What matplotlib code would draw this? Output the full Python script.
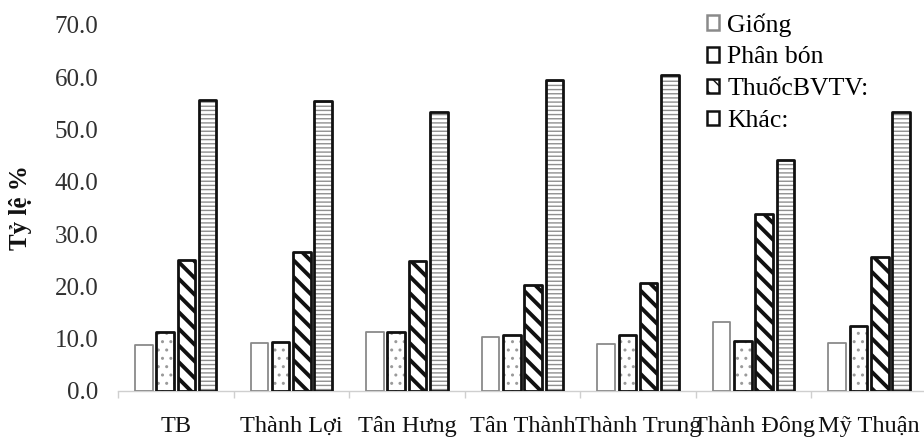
import matplotlib
matplotlib.use("Agg")
import matplotlib.pyplot as plt
from matplotlib.patches import Patch
import numpy as np

plt.rcParams['font.family'] = ['Liberation Serif', 'DejaVu Serif']

categories = ["TB", "Thành Lợi", "Tân Hưng", "Tân Thành", "Thành Trung", "Thành Đông", "Mỹ Thuận"]
giong = [8.8, 9.1, 11.3, 10.4, 9.0, 13.1, 9.1]
phan_bon = [11.2, 9.4, 11.2, 10.7, 10.7, 9.6, 12.5]
thuoc_bvtv = [25.1, 26.5, 24.9, 20.3, 20.6, 33.9, 25.6]
khac = [55.6, 55.4, 53.4, 59.5, 60.4, 44.1, 53.3]
series_labels = ["Giống", "Phân bón", "ThuốcBVTV:", "Khác:"]
y_ticks = [0, 10, 20, 30, 40, 50, 60, 70]

fig = plt.figure(figsize=(9.24, 4.37), dpi=100)
ax = fig.add_axes([0.1277, 0.1053, 0.8755, 0.8375])

x = np.arange(len(categories))
step = 0.184
width = 0.152

# (values, hatch, hatch colour, outline colour, outline width, hatch width)
styles = [
    (giong, None, None, '#8a8a8a', 1.3, 1.0),
    (phan_bon, '..', '#9a9a9a', '#111111', 2.0, 1.0),
    (thuoc_bvtv, '\\\\', '#111111', '#111111', 2.0, 2.8),
    (khac, '----', '#8f8f8f', '#111111', 2.0, 1.0),
]

for i, (vals, hatch, hcol, ecol, lw, hlw) in enumerate(styles):
    pos = x + (i - 1.5) * step
    if hatch is not None:
        with plt.rc_context({'hatch.linewidth': hlw}):
            bars = ax.bar(pos, vals, width, color='white', hatch=hatch,
                          edgecolor=hcol, linewidth=0, zorder=2)
        for b in bars:
            if hasattr(b, 'set_hatch_linewidth'):
                b.set_hatch_linewidth(hlw)
    ax.bar(pos, vals, width, fill=False, edgecolor=ecol, linewidth=lw,
           zorder=3, joinstyle='round')

ax.set_xlim(-0.5, len(categories) - 0.5)
ax.set_ylim(0, 70)
ax.set_yticks(y_ticks)
ax.set_yticklabels([f"{v:.1f}" for v in y_ticks], fontsize=18, color='#303030')
ax.tick_params(axis='y', length=0, pad=14)

ax.set_xticks(x)
ax.set_xticklabels(categories, fontsize=17.5, color='#111111')
ax.set_xticks(np.arange(-0.5, len(categories) + 0.5, 1), minor=True)
ax.tick_params(axis='x', which='major', length=0, pad=18)
ax.tick_params(axis='x', which='minor', length=5, color='#cfcfcf', width=1)

for s in ['left', 'right', 'top']:
    ax.spines[s].set_visible(False)
ax.spines['bottom'].set_color('#cfcfcf')
ax.spines['bottom'].set_linewidth(1.0)

fig.text(0.022, 0.524, "Tỷ lệ %", rotation=90, fontsize=18, fontweight='bold',
         ha='center', va='center', color='#111111')

handles = []
for i, (vals, hatch, hcol, ecol, lw, hlw) in enumerate(styles):
    handles.append(Patch(facecolor='white', edgecolor=ecol, linewidth=1.8,
                         hatch=None if i != 2 else '\\\\'))
leg = fig.legend(handles, series_labels, loc='upper left',
                 bbox_to_anchor=(0.748, 1.005), frameon=False, fontsize=18.5,
                 handlelength=0.5, handleheight=0.5, handletextpad=0.3,
                 labelspacing=0.38, borderaxespad=0.2)

fig.savefig("out.png", dpi=100)
